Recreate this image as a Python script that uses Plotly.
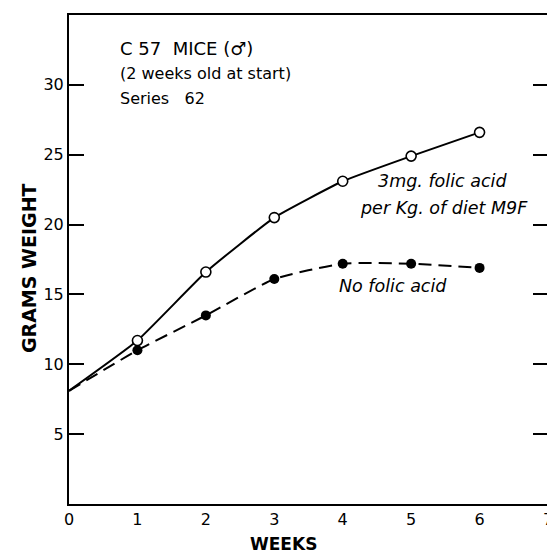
import plotly.graph_objects as go

weeks = [0, 1, 2, 3, 4, 5, 6]
folic_acid = [8.1, 11.7, 16.6, 20.5, 23.1, 24.9, 26.6]
no_folic_acid = [8.1, 11.0, 13.5, 16.1, 17.2, 17.2, 16.9]
y_ticks = [5, 10, 15, 20, 25, 30]
x_ticks = [0, 1, 2, 3, 4, 5, 6, 7]

FONT = "DejaVu Sans"

fig = go.Figure()
fig.add_trace(go.Scatter(
    x=weeks, y=no_folic_acid, mode="lines",
    line=dict(color="black", width=2, dash="13px,7px", shape="spline", smoothing=0.5),
    showlegend=False))
fig.add_trace(go.Scatter(
    x=weeks[1:], y=no_folic_acid[1:], mode="markers",
    marker=dict(symbol="circle", size=10, color="black"),
    showlegend=False))
fig.add_trace(go.Scatter(
    x=weeks, y=folic_acid, mode="lines",
    line=dict(color="black", width=2, shape="spline", smoothing=0.4),
    showlegend=False))
fig.add_trace(go.Scatter(
    x=weeks[1:], y=folic_acid[1:], mode="markers",
    marker=dict(symbol="circle", size=10, color="white", line=dict(color="black", width=1.6)),
    showlegend=False))

annos = [
    dict(x=0.72, y=32.6, text="C 57  MICE (♂)", xanchor="left", size=18, italic=False),
    dict(x=0.72, y=30.8, text="(2 weeks old at start)", xanchor="left", size=16, italic=False),
    dict(x=0.72, y=29.0, text="Series   62", xanchor="left", size=16, italic=False),
    dict(x=5.46, y=23.1, text="3mg. folic acid", xanchor="center", size=17.5, italic=True),
    dict(x=5.48, y=21.2, text="per Kg. of diet M9F", xanchor="center", size=17.5, italic=True),
    dict(x=4.73, y=15.6, text="No folic acid", xanchor="center", size=17.5, italic=True),
]
for a in annos:
    txt = f"<i>{a['text']}</i>" if a["italic"] else a["text"]
    fig.add_annotation(x=a["x"], y=a["y"], xref="x", yref="y", text=txt,
                       showarrow=False, xanchor=a["xanchor"], yanchor="middle",
                       font=dict(family=FONT, size=a["size"], color="black"))

# axis titles
fig.add_annotation(x=0.448, y=-0.082, xref="paper", yref="paper", text="<b>WEEKS</b>",
                   showarrow=False, xanchor="center", yanchor="middle",
                   font=dict(family=FONT, size=17, color="black"))
fig.add_annotation(x=-0.083, y=0.483, xref="paper", yref="paper", text="<b>GRAMS WEIGHT</b>",
                   showarrow=False, xanchor="center", yanchor="middle", textangle=-90,
                   font=dict(family=FONT, size=19, color="black"))

fig.update_xaxes(range=[0, 7], tickvals=x_ticks, ticktext=[str(v) for v in x_ticks],
                 showline=True, linecolor="black", linewidth=2, mirror=True,
                 ticks="", showgrid=False, zeroline=False, automargin=False,
                 ticklabeloverflow="allow",
                 tickfont=dict(family=FONT, size=16, color="black"))
fig.update_yaxes(range=[0, 35], tickvals=y_ticks, ticktext=[str(v) for v in y_ticks],
                 showline=True, linecolor="black", linewidth=2, mirror="ticks",
                 ticks="inside", ticklen=15, tickwidth=2, tickcolor="black",
                 showgrid=False, zeroline=False, automargin=False,
                 tickfont=dict(family=FONT, size=16, color="black"))

# the page body adds an 8px offset, so the figure is sized to fit inside the window
fig.update_layout(width=547, height=546, margin=dict(l=61, r=7, t=7, b=50),
                  plot_bgcolor="white", paper_bgcolor="white")
fig.write_html("out.html")
